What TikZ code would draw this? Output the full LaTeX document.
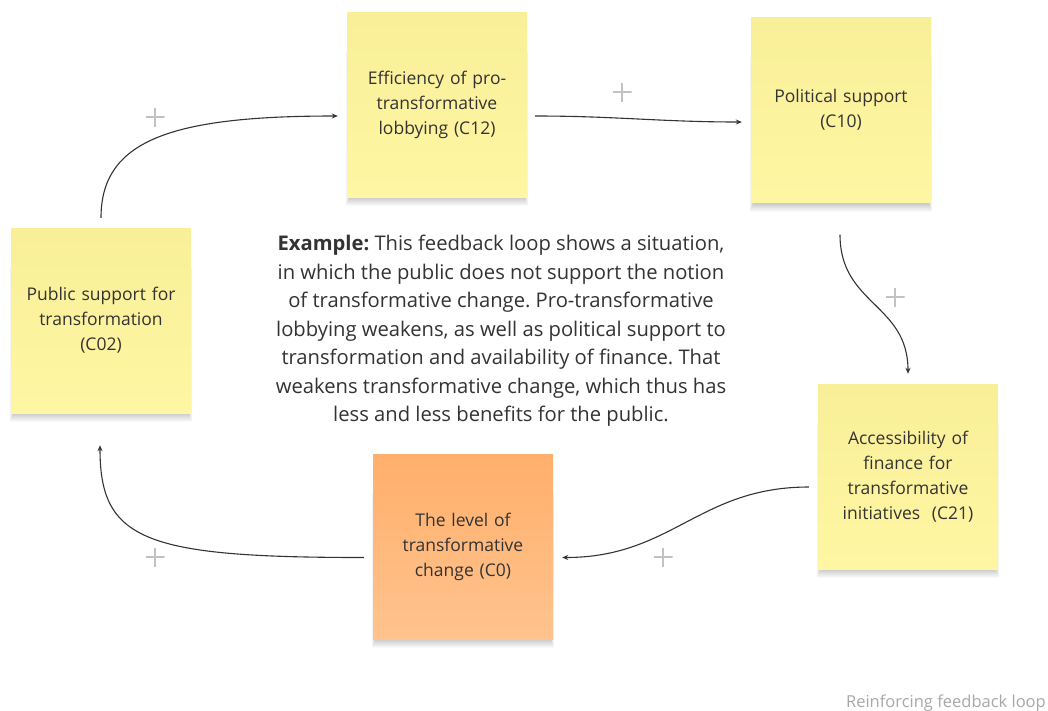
\documentclass[tikz,border=0pt]{standalone}
\usepackage{fontspec}
\setmainfont{Open Sans}
\usetikzlibrary{calc,backgrounds,arrows.meta}
\definecolor{ink}{HTML}{333333}
\definecolor{ylwtop}{HTML}{F9EF99}
\definecolor{ylwbot}{HTML}{FFF6A3}
\definecolor{orgtop}{HTML}{FFAF6B}
\definecolor{orgbot}{HTML}{FFC38E}
\definecolor{plusgray}{HTML}{C2C2C2}
\definecolor{notegray}{HTML}{A8A8A8}
\frenchspacing
\begin{document}
\begin{tikzpicture}[x=1pt,y=-1pt,
  sticky/.style={minimum width=180pt,minimum height=185pt,inner sep=0pt,
    text width=165pt,align=center,font=\fontsize{17.5}{25}\selectfont,text=ink},
  yellownote/.style={sticky,top color=ylwtop,bottom color=ylwbot},
  orangenote/.style={sticky,top color=orgtop,bottom color=orgbot},
  link/.style={draw=ink,line width=1.1pt,-{Stealth[length=6pt,width=5pt]}},
  plussign/.style={minimum size=19pt,inner sep=0pt,
    path picture={\draw[plusgray,line width=2.6pt]
      (path picture bounding box.north) -- (path picture bounding box.south)
      (path picture bounding box.west) -- (path picture bounding box.east);}}
]
\useasboundingbox (0,0) rectangle (1048,710);

\node[yellownote] (C12) at (437,104.5) {Efficiency of pro-\\transformative\\lobbying (C12)};
\node[yellownote] (C10) at (841,110) {Political support\\(C10)};
\node[yellownote] (C02) at (101,320.5) {Public support for\\transformation\\(C02)};
\node[orangenote] (C0) at (463,546.5) {The level of\\transformative\\change (C0)};
\node[yellownote] (C21) at (908,476.5) {Accessibility of\\finance for\\transformative\\initiatives\ \ (C21)};

\begin{scope}[on background layer]
  \fill[white] (0,0) rectangle (1048,710);
  \foreach \n in {C12,C10,C02,C0,C21}{
    \foreach \k in {1,...,9}{
      \fill[black,opacity=0.022]
        ($(\n.north west)+({3-0.45*\k},40)$) rectangle ($(\n.south east)+({-3+0.45*\k},\k)$);
    }
  }
\end{scope}

\node[align=center,text=ink,font=\fontsize{20.2}{28.5}\selectfont] (ex) at (501,331)
  {\textbf{Example:} This feedback loop shows a situation,\\
   in which the public does not support the notion\\
   of transformative change. Pro-transformative\\
   lobbying weakens, as well as political support to\\
   transformation and availability of finance. That\\
   weakens transformative change, which thus has\\
   less and less benefits for the public.};

\draw[link,shorten <=10pt] (C02.north) .. controls +(0,-87) and +(-168,0) .. ($(C12.west)+(-9,11.5)$);
\draw[link] ($(C12.east)+(8,11.5)$) .. controls +(80,0) and +(-80,0) .. ($(C10.west)+(-9,12)$);
\draw[link] ($(C10.south)+(-1,32)$) .. controls +(0,70) and +(0,-70) .. ($(C21.north)+(0,-10)$);
\draw[link] ($(C21.west)+(-9,10.5)$) .. controls +(-110,0) and +(110,0) .. ($(C0.east)+(9,11)$);
\draw[link] ($(C0.west)+(-9,11)$) .. controls +(-220,0) and +(0,95) .. ($(C02.south)+(-1,32)$);

\node[plussign] (p1) at (155,117) {};
\node[plussign] (p2) at (622,92) {};
\node[plussign] (p3) at (895,297) {};
\node[plussign] (p4) at (663,557) {};
\node[plussign] (p5) at (155,557) {};

\node[anchor=base east,inner sep=0pt,text=notegray,font=\fontsize{16.5}{20}\selectfont] (cap) at (1046,707) {Reinforcing feedback loop};
\end{tikzpicture}
\end{document}
